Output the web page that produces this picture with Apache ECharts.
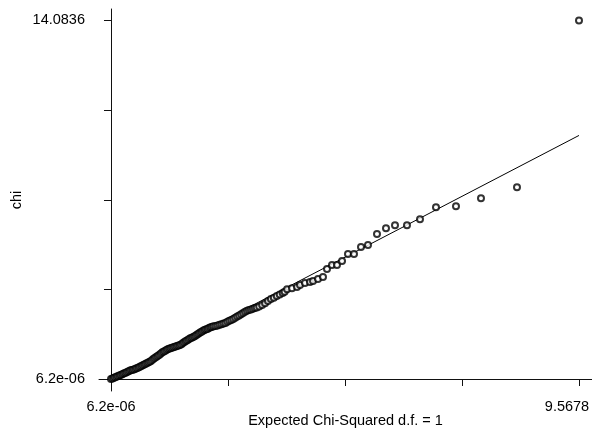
<!DOCTYPE html>
<html>
<head>
<meta charset="utf-8">
<script src="https://cdn.jsdelivr.net/npm/echarts@6/dist/echarts.min.js"></script>
<style>
  html, body { margin: 0; padding: 0; background: #fff; }
  #chart { width: 592px; height: 428px; }
</style>
</head>
<body>
<div id="chart"></div>
<script>
const expectedQ = [
  0.00, 0.03, 0.06, 0.09, 0.12, 0.15, 0.18, 0.21, 0.24, 0.27,
  0.30, 0.33, 0.36, 0.39, 0.42, 0.45, 0.48, 0.51, 0.54, 0.57,
  0.60, 0.63, 0.66, 0.69, 0.72, 0.75, 0.78, 0.81, 0.84, 0.87,
  0.90, 0.93, 0.96, 0.99, 1.02, 1.05, 1.08, 1.11, 1.14, 1.17,
  1.20, 1.23, 1.26, 1.29, 1.32, 1.35, 1.38, 1.41, 1.44, 1.47,
  1.50, 1.53, 1.56, 1.59, 1.62, 1.65, 1.68, 1.71, 1.74, 1.77,
  1.80, 1.83, 1.86, 1.89, 1.92, 1.95, 1.98, 2.01, 2.04, 2.07,
  2.10, 2.14, 2.18, 2.22, 2.26, 2.30, 2.34, 2.38, 2.42, 2.46,
  2.50, 2.54, 2.58, 2.62, 2.66, 2.70, 2.74, 2.78, 2.82, 2.86,
  2.90, 2.94, 2.98, 3.03, 3.09, 3.15, 3.21, 3.27, 3.33, 3.39,
  3.45, 3.51, 3.55, 3.60, 3.70, 3.803, 3.864, 3.966, 4.068, 4.130,
  4.232, 4.334, 4.416, 4.518, 4.620, 4.723, 4.845, 4.968, 5.111, 5.254,
  5.438, 5.622, 5.806, 6.051, 6.317, 6.644, 7.053, 7.564, 8.300, 9.5678
];
const observedChi = [
  0.000, 0.022, 0.045, 0.070, 0.097, 0.122, 0.148, 0.172, 0.196, 0.222,
  0.248, 0.275, 0.303, 0.330, 0.350, 0.368, 0.386, 0.408, 0.437, 0.466,
  0.496, 0.525, 0.554, 0.583, 0.612, 0.640, 0.668, 0.700, 0.745, 0.793,
  0.836, 0.876, 0.913, 0.953, 1.002, 1.048, 1.084, 1.106, 1.145, 1.180,
  1.200, 1.218, 1.238, 1.257, 1.275, 1.296, 1.315, 1.334, 1.370, 1.410,
  1.450, 1.490, 1.527, 1.565, 1.597, 1.625, 1.652, 1.684, 1.716, 1.755,
  1.795, 1.835, 1.870, 1.905, 1.935, 1.957, 1.975, 2.012, 2.033, 2.055,
  2.068, 2.080, 2.101, 2.128, 2.153, 2.179, 2.205, 2.245, 2.284, 2.322,
  2.361, 2.405, 2.456, 2.496, 2.540, 2.592, 2.643, 2.682, 2.708, 2.734,
  2.760, 2.785, 2.810, 2.850, 2.912, 2.977, 3.063, 3.140, 3.197, 3.256,
  3.320, 3.382, 3.430, 3.530, 3.570, 3.611, 3.690, 3.768, 3.807, 3.847,
  3.925, 4.004, 4.318, 4.475, 4.475, 4.632, 4.907, 4.907, 5.181, 5.260,
  5.692, 5.927, 6.045, 6.045, 6.280, 6.751, 6.791, 7.105, 7.536, 14.0836
];
// reference line observed = expected
const refLineX = [0.0000062, 9.5678];
const refLineY = [0.0000062, 9.5678];

const xTicks = [0.0000062, 2.39195, 4.7839, 7.17585, 9.5678];
const xTickLabels = ['6.2e-06', '', '', '', '9.5678'];
const yTicks = [0.0000062, 3.5209, 7.0418, 10.5627, 14.0836];
const yTickLabels = ['6.2e-06', '', '', '', '14.0836'];

const font = 'Liberation Sans, Arial, Helvetica, sans-serif';

function tickLabel(ticks, labels, richLast) {
  return function (v) {
    for (let i = 0; i < ticks.length; i++) {
      if (Math.abs(ticks[i] - v) < 1e-6) {
        // last x label sits pulled left, inside the frame
        if (richLast && i === ticks.length - 1) return '{last|' + labels[i] + '}';
        return labels[i];
      }
    }
    return '';
  };
}

const chart = echarts.init(document.getElementById('chart'), null, {renderer: 'canvas'});
const option = {
  animation: false,
  grid: {left: 99, right: 0, top: 9, bottom: 37, containLabel: false, outerBoundsMode: 'none'},
  xAxis: {
    type: 'value',
    min: -0.2453,
    max: 9.8336,
    name: 'Expected Chi-Squared d.f. = 1',
    nameLocation: 'middle',
    nameGap: 22,
    nameMoveOverlap: false,
    nameTextStyle: {fontFamily: font, fontSize: 14.5, color: '#000'},
    axisLine: {show: true, lineStyle: {color: '#111', width: 1}},
    axisTick: {show: true, length: 7, customValues: xTicks, lineStyle: {color: '#111'}},
    axisLabel: {
      show: true, margin: 8, customValues: [xTicks[0], xTicks[4]],
      fontFamily: font, fontSize: 14.5, color: '#000',
      formatter: tickLabel(xTicks, xTickLabels, true),
      rich: {last: {fontFamily: font, fontSize: 14.5, color: '#000', padding: [0, 24, 0, 0]}}
    },
    splitLine: {show: false}
  },
  yAxis: {
    type: 'value',
    min: -0.471,
    max: 14.535,
    name: 'chi',
    nameLocation: 'middle',
    nameGap: 75,
    nameMoveOverlap: false,
    nameTextStyle: {fontFamily: font, fontSize: 14.5, color: '#000'},
    axisLine: {show: true, lineStyle: {color: '#111', width: 1}},
    axisTick: {show: true, length: 7, customValues: yTicks, lineStyle: {color: '#111'}},
    axisLabel: {
      show: true, margin: 14, customValues: [yTicks[0], yTicks[4]],
      fontFamily: font, fontSize: 14.5, color: '#000',
      formatter: tickLabel(yTicks, yTickLabels, false)
    },
    splitLine: {show: false}
  },
  series: [
    {
      type: 'line',
      data: refLineX.map((x, i) => [x, refLineY[i]]),
      showSymbol: false,
      lineStyle: {color: '#000', width: 1},
      silent: true,
      z: 1
    },
    {
      type: 'scatter',
      data: expectedQ.map((x, i) => [x, observedChi[i]]),
      symbol: 'emptyCircle',
      symbolSize: 6,
      itemStyle: {color: '#000', borderColor: '#000', borderWidth: 1.3},
      z: 2
    }
  ]
};
chart.setOption(option);
</script>
</body>
</html>
